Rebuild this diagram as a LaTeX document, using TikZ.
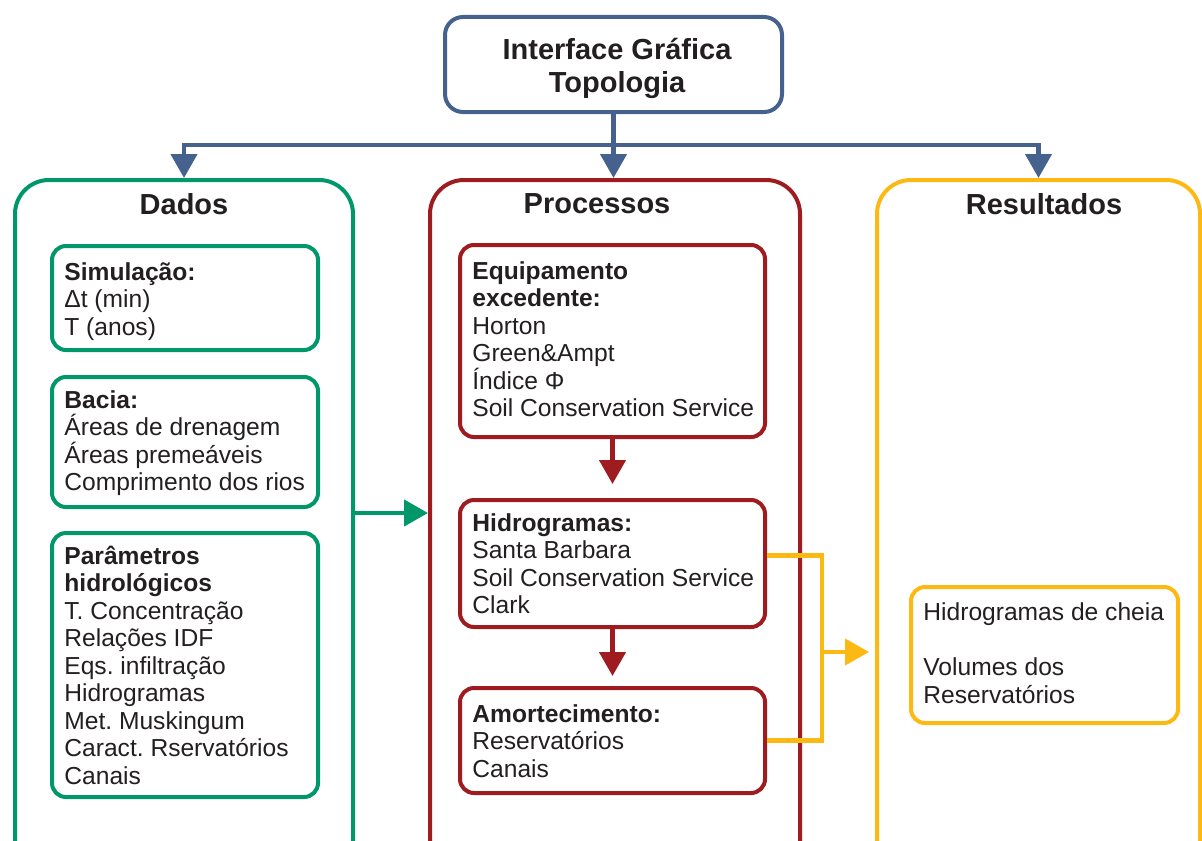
\documentclass[tikz,border=0pt]{standalone}
\usepackage{fontspec}
\setmainfont{Liberation Sans}
\usetikzlibrary{fit,arrows.meta}
\definecolor{cblue}{HTML}{45618E}
\definecolor{cgreen}{HTML}{00976A}
\definecolor{cred}{HTML}{9E1B20}
\definecolor{cyel}{HTML}{FDB913}
\definecolor{ctext}{HTML}{231F20}
\frenchspacing
\begin{document}
\begin{tikzpicture}[x=0.5pt,y=-0.5pt,
  outerbox/.style={draw, line width=2pt, rounded corners=17pt, inner sep=0pt},
  innerbox/.style={draw, line width=2pt, rounded corners=7pt, inner sep=0pt},
  topbox/.style={draw=cblue, line width=2pt, rounded corners=9pt, inner sep=0pt},
  body/.style={anchor=base west, align=left, inner sep=0pt, text=ctext, font=\fontsize{12.3}{13.75}\selectfont\frenchspacing},
  head/.style={inner sep=0pt, text=ctext, font=\fontsize{14.5}{16.5}\selectfont\bfseries, align=center},
  conn/.style={line width=2.2pt, -{Triangle[width=13pt,length=12pt]}},
  plainline/.style={line width=2.2pt}
]
\useasboundingbox (0,0) rectangle (1202,840);
\clip (0,0) rectangle (1202,840);

% top box
\node[topbox, fit={(445,17) (782,112)}] (top) {};
\node[head] (toptxt) at (617,68) {Interface Gráfica\\Topologia};

% outer boxes
\node[outerbox, draw=cgreen, fit={(15,180) (353,900)}] (dados) {};
\node[outerbox, draw=cred, fit={(430,180) (800,900)}] (proc) {};
\node[outerbox, draw=cyel, fit={(877,180) (1200,900)}] (res) {};

\node[head] (dadost) at (184,204) {Dados};
\node[head] (proct) at (597,204) {Processos};
\node[head] (rest) at (1044,204) {Resultados};

% inner green boxes
\node[innerbox, draw=cgreen, fit={(52,246) (318,350)}] (sim) {};
\node[body] (simt) at (64,335) {\textbf{Simulação:}\\Δt (min)\\T (anos)};
\node[innerbox, draw=cgreen, fit={(52,377) (318,507)}] (bac) {};
\node[body] (bact) at (64,490.5) {\textbf{Bacia:}\\Áreas de drenagem\\Áreas premeáveis\\Comprimento dos rios};
\node[innerbox, draw=cgreen, fit={(52,533) (318,797)}] (par) {};
\node[body] (part) at (64,784) {\textbf{Parâmetros}\\\textbf{hidrológicos}\\T. Concentração\\Relações IDF\\Eqs. infiltração\\Hidrogramas\\Met. Muskingum\\Caract. Rservatórios\\Canais};

% inner red boxes
\node[innerbox, draw=cred, fit={(460,245) (765,437)}] (eq) {};
\node[body] (eqt) at (472,416.5) {\textbf{Equipamento}\\\textbf{excedente:}\\Horton\\Green\&Ampt\\Índice Φ\\Soil Conservation Service};
\node[innerbox, draw=cred, fit={(460,500) (765,627)}] (hid) {};
\node[body] (hidt) at (472,613.5) {\textbf{Hidrogramas:}\\Santa Barbara\\Soil Conservation Service\\Clark};
\node[innerbox, draw=cred, fit={(460,688) (765,793)}] (amo) {};
\node[body] (amot) at (472,777) {\textbf{Amortecimento:}\\Reservatórios\\Canais};

% inner yellow box
\node[innerbox, draw=cyel, fit={(911,587) (1178,723)}] (hc) {};
\node[body] (hct) at (923,703) {Hidrogramas de cheia\\[13.75pt]Volumes dos\\Reservatórios};

% blue connectors
\coordinate (hub) at (613,145);
\draw[plainline, cblue] (top.south) -- (top.south |- hub);
\draw[conn, cblue] (top.south |- hub) -| (dados.north);
\draw[conn, cblue] (top.south |- hub) -| (res.north);
\draw[conn, cblue] (top.south) -- (top.south |- proc.north);

% green connector
\draw[conn, cgreen] (dados.east |- 0,513) -- (proc.west |- 0,513);

% red connectors
\draw[conn, cred, shorten >=7pt] (eq.south) -- (hid.north);
\draw[conn, cred, shorten >=5pt] (hid.south) -- (amo.north);

% yellow connectors
\coordinate (yj) at (822,652);
\draw[plainline, cyel] ([yshift=4pt]hid.east) -| (yj |- amo.east) -- (amo.east);
\draw[conn, cyel, shorten >=3pt] (yj) -- (res.west |- yj);
\end{tikzpicture}
\end{document}
